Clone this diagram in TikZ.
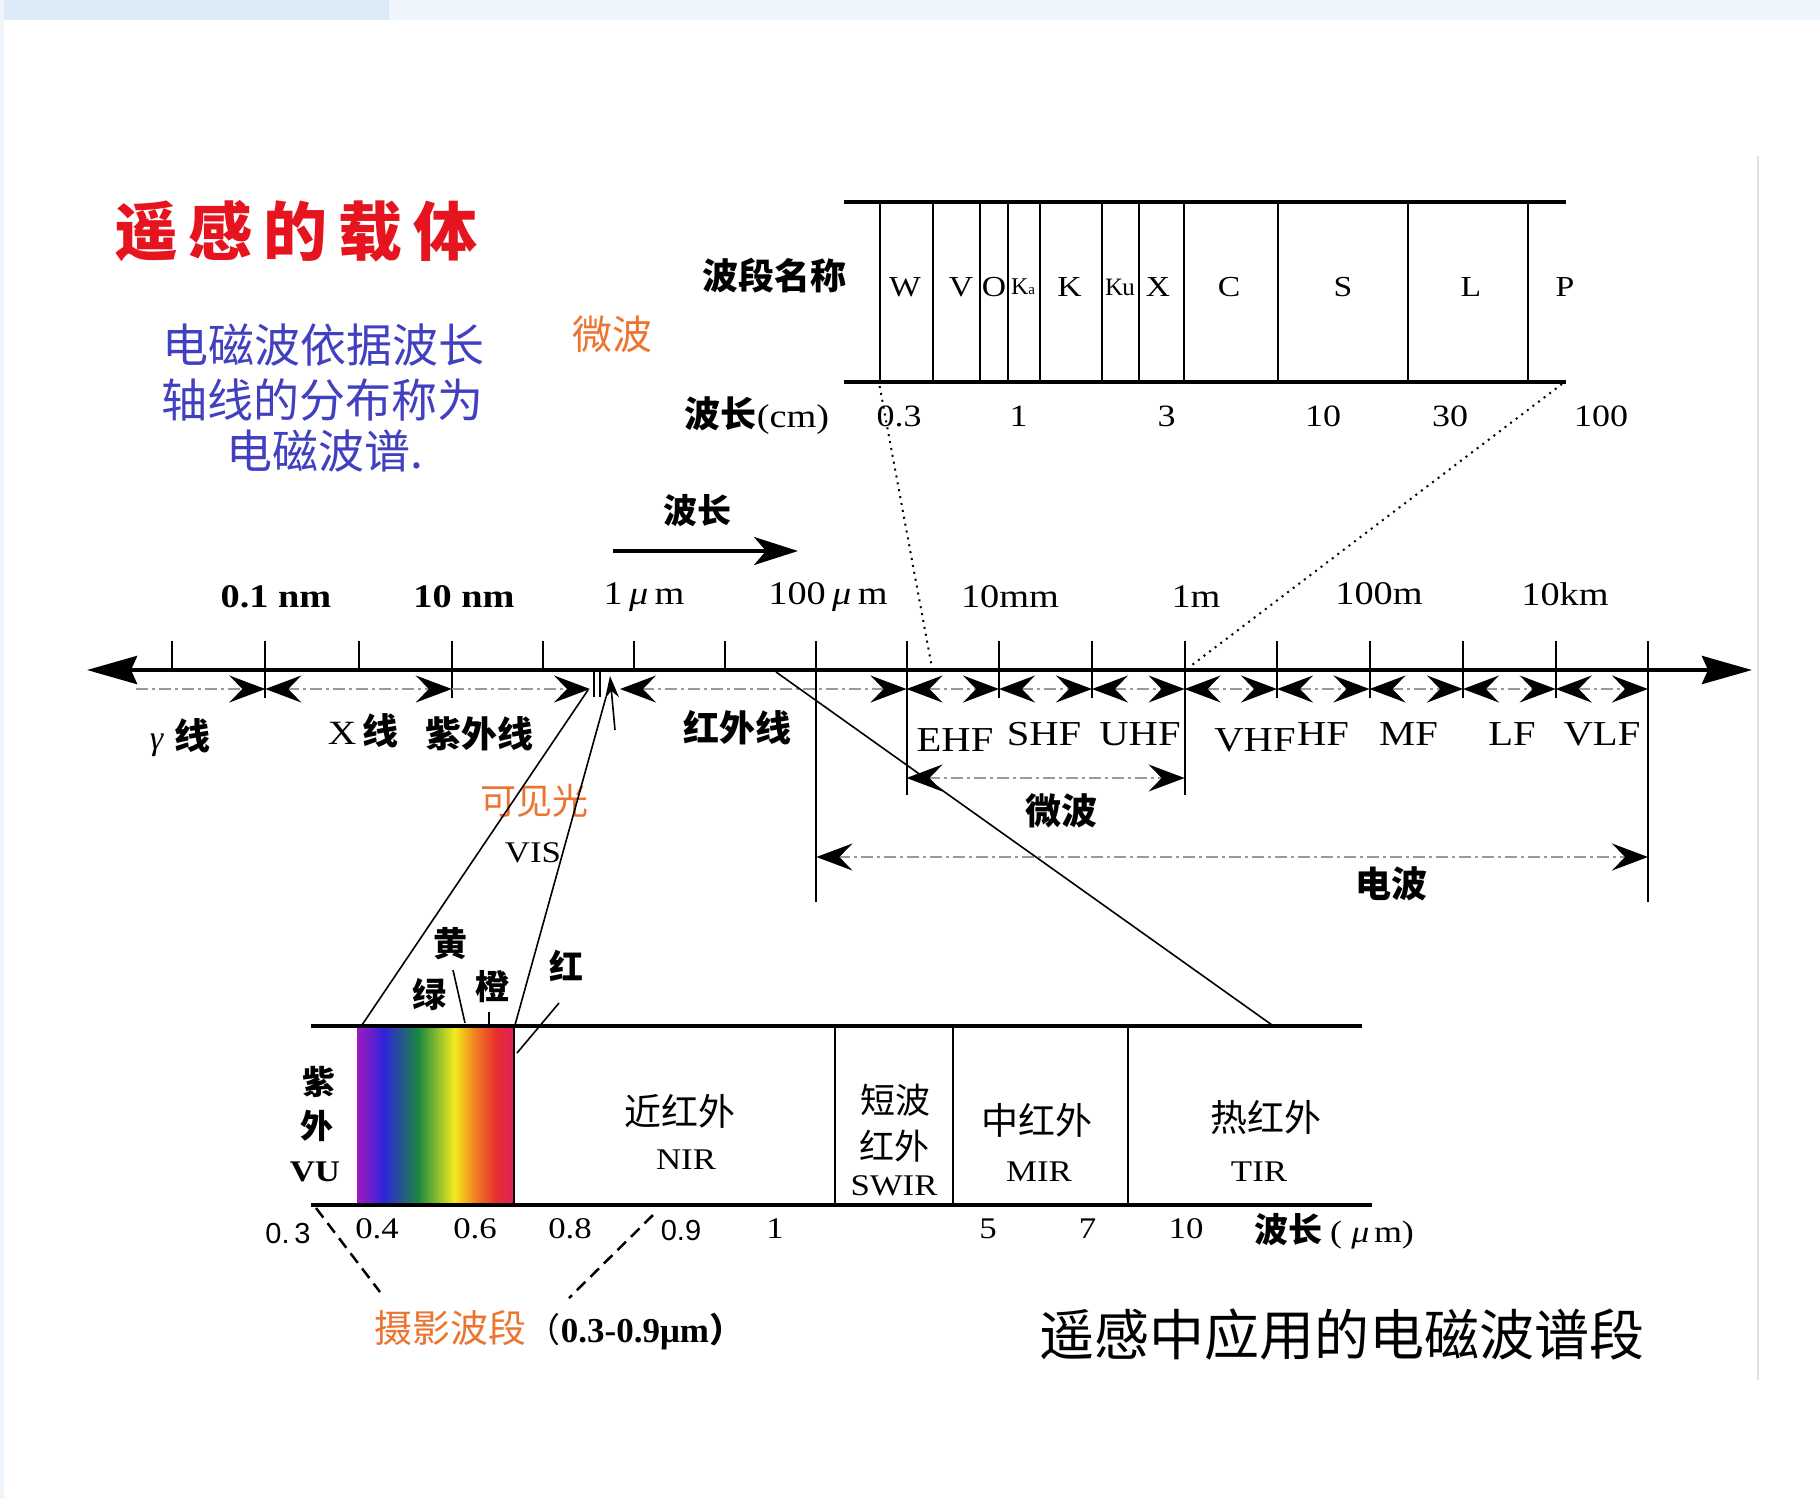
\documentclass[tikz,border=0pt]{standalone}
\usepackage{fontspec}
\setmainfont{Liberation Serif}
\newfontfamily\cjk{Noto Sans CJK SC}
\newfontfamily\sansnum{Liberation Sans}
\usetikzlibrary{arrows.meta}
\definecolor{titlered}{HTML}{E5141E}
\definecolor{bluetxt}{HTML}{4040C0}
\definecolor{orangetxt}{HTML}{EC7430}
\definecolor{bandblue}{HTML}{DCEAF8}
\definecolor{bandblue2}{HTML}{EEF5FC}
\definecolor{dimgray}{HTML}{9A9A9A}
\definecolor{framegray}{HTML}{E6DEDE}
\newcommand\fsz[1]{\fontsize{#1}{#1}\selectfont}
\newcommand\wide[1]{\scalebox{1.16}[1]{#1}}
\begin{document}
\begin{tikzpicture}[x=1pt,y=-1pt,
  txt/.style={inner sep=0pt, anchor=center},
  cb/.style={txt, font=\cjk\bfseries\fsz{#1}},
  cr/.style={txt, font=\cjk\fsz{#1}},
  tm/.style={txt, font=\fsz{#1}},
  axisline/.style={line width=4.5pt, {Stealth[length=50pt,width=28pt,inset=6pt]}-{Stealth[length=50pt,width=28pt,inset=6pt]}},
  tick/.style={line width=2pt},
  thin/.style={line width=1.6pt},
  hline/.style={line width=4pt},
  vline/.style={line width=2pt},
  dimline/.style={draw=dimgray, line width=2.4pt, dash pattern=on 12pt off 4pt on 3pt off 4pt},
  dimboth/.style={dimline, arrows={Stealth[length=36pt,width=27pt,inset=13pt,color=black]-Stealth[length=36pt,width=27pt,inset=13pt,color=black]}},
  dimright/.style={dimline, arrows={-Stealth[length=36pt,width=27pt,inset=13pt,color=black]}},
  dotline/.style={line width=2pt, dash pattern=on 2pt off 5pt},
  dashline/.style={line width=2.5pt, dash pattern=on 12pt off 7pt}
]
\useasboundingbox (0,0) rectangle (1820,1499);
\fill[white] (0,0) rectangle (1820,1499);
% background decoration
\fill[bandblue2] (0,0) rectangle (1820,20);
\fill[bandblue] (0,0) rectangle (389,20);
\fill[bandblue2] (0,0) rectangle (4,1499);
\draw[framegray, line width=2pt] (1758,156) -- (1758,1380);

% ---------- title & texts ----------
\node[txt, font=\cjk\bfseries\fsz{64}, text=titlered] (title) at (296,231) {遥\hspace{11pt}感\hspace{11pt}的\hspace{11pt}载\hspace{11pt}体};
\node[cr=46, text=bluetxt] (desc1) at (323,345) {电磁波依据波长};
\node[cr=46, text=bluetxt] (desc2) at (322,400) {轴线的分布称为};
\node[cr=46, text=bluetxt] (desc3) at (325,451) {电磁波谱.};
\node[cr=40, text=orangetxt] (mw) at (612,334) {微波};

% ---------- top table ----------
\coordinate (tl) at (844,202);
\coordinate (tr) at (1566,202);
\coordinate (bl) at (844,382);
\coordinate (br) at (1566,382);
\draw[hline] (tl) -- (tr);
\draw[hline] (bl) -- (br);
\foreach \x [count=\i] in {879.6,932.5,980.4,1008.4,1039.7,1102.2,1138.5,1184.4,1278.2,1407.7,1527.6}
  \draw[vline] (\x,202) coordinate (vt\i) -- (\x,382) coordinate (vb\i);
\node[cb=36] (bdmc) at (774,276) {波段名称};
\foreach \x/\t/\n in {905/W/W,961/V/V,994/O/O,1069.6/K/K,1158/X/X,1229/C/C,1343/S/S,1471/L/L,1565/P/P}
  \node[tm=29] (band\n) at (\x,287) {\wide{\t}};
\node[tm=24] (bandKa) at (1023,287) {K\fsz{15}a};
\node[tm=25] (bandKu) at (1120,287) {K\hspace{-1pt}u};
\node[txt] (bcm) at (757,416) {{\cjk\bfseries\fsz{36}波长}\wide{\fsz{33}(cm)}};
\foreach \x/\t/\n in {899/0.3/a,1018.6/1/b,1166.6/3/c,1323/10/d,1450/30/e,1601/100/f}
  \node[tm=31] (cm\n) at (\x,416) {\wide{\t}};

% ---------- wavelength arrow ----------
\node[cb=34] (bc) at (697,511) {波长};
\coordinate (wa1) at (613,551);
\coordinate (wa2) at (798,551);
\draw[line width=3.5pt, -{Stealth[length=44pt,width=28pt,inset=12pt]}] (wa1) -- (wa2);

% ---------- main axis ----------
\coordinate (axL) at (87,670);
\coordinate (axR) at (1752,670);
\draw[axisline] (axL) -- (axR);
\foreach \x [count=\i from 0] in {171.7,265.3,358.7,451.8,542.5,634.4,725,816.4,906.5,999,1092,1184.6,1277,1369.5,1463,1555.7,1648}
  \coordinate (t\i) at (\x,670);
% short ticks above
\foreach \i in {0,...,16} \draw[tick] (t\i) -- ++(0,-29);
% ticks continuing below
\foreach \i in {1,3,9,10,12,13,14,15} \draw[tick] (t\i) -- ++(0,28);
% long boundaries
\draw[tick] (t7) -- ++(0,232);
\draw[tick] (t16) -- ++(0,232);
\draw[tick] (t8) -- ++(0,125);
\draw[tick] (t11) -- ++(0,125);
% visible light boundaries
\coordinate (vis1) at (594,670);
\coordinate (vis2) at (600,670);
\draw[thin] (vis1) -- ++(0,27);
\draw[thin] (vis2) -- ++(0,27);

% dimension arrows
\coordinate (g0) at (136,689);
\coordinate (uvR) at (590,689);
\coordinate (irL) at (620,689);
\draw[dimright] (g0) -- (t1|-g0);
\draw[dimboth] (t1|-g0) -- (t3|-g0);
\draw[dimright] (t3|-g0) -- (uvR);
\draw[dimboth] (irL) -- (t8|-g0);
\foreach \a/\b in {8/9,9/10,10/11,11/12,12/13,13/14,14/15,15/16}
  \draw[dimboth] (t\a|-g0) -- (t\b|-g0);
% up arrow at visible band
\coordinate (ua1) at (615,730);
\coordinate (ua2) at (610,676);
\draw[thin, -{Stealth[length=22pt,width=14pt]}] (ua1) -- (ua2);

% microwave and radio brackets
\coordinate (m0) at (906.5,778);
\coordinate (r0) at (816.4,857);
\draw[dimboth] (t8|-m0) -- (t11|-m0);
\draw[dimboth] (t7|-r0) -- (t16|-r0);
\node[cb=36] (lmw) at (1061,811) {微波};
\node[cb=36] (ldb) at (1391,884) {电波};

% axis labels above
\node[tm=33] (l01) at (276,597) {\wide{\bfseries 0.1 nm}};
\node[tm=33] (l10) at (464,597) {\wide{\bfseries 10 nm}};
\node[tm=33] (l1u) at (644,597) {\wide{1\,\textit{μ}\,m}};
\node[tm=33] (l100u) at (828,597) {\wide{100\,\textit{μ}\,m}};
\node[tm=33] (l10mm) at (1010,597) {\wide{10mm}};
\node[tm=33] (l1m) at (1196,597) {\wide{1m}};
\node[tm=33] (l100m) at (1379,594) {\wide{100m}};
\node[tm=33] (l10km) at (1565,594) {\wide{10km}};

% band labels below
\node[txt] (lg) at (180,738) {\fsz{34}\textit{γ}\hspace{10pt}{\cjk\bfseries\fsz{36}线}};
\node[txt] (lx) at (363,731) {\wide{\fsz{34}X}\hspace{6pt}{\cjk\bfseries\fsz{36}线}};
\node[cb=36] (luv) at (479.5,734) {紫外线};
\node[cb=36] (lir) at (737,728) {红外线};
\foreach \x/\y/\t in {955/740/EHF,1044/734/SHF,1140/734/UHF,1255/740/VHF,1323/734/HF,1408.5/734/MF,1512/734/LF,1602/734/VLF}
  \node[tm=35] (f\t) at (\x,\y) {\wide{\t}};

% microwave zoom dotted lines
\coordinate (dz1) at (932,668);
\coordinate (dz2) at (1192,665);
\draw[dotline] (vb1) ++(0,4) -- (dz1);
\draw[dotline] (1562,384) coordinate (dz3) -- (dz2);

% ---------- visible light labels ----------
\node[cr=36, text=orangetxt] (lvis) at (534,801) {可见光};
\node[tm=30] (lvisen) at (533,853) {\wide{VIS}};

% ---------- lower panel ----------
\coordinate (ptl) at (311,1026);
\coordinate (ptr) at (1362,1026);
\coordinate (pbl) at (311,1205);
\coordinate (pbr) at (1372,1205);
% spectrum gradient
\shade[left color={rgb,255:red,160;green,26;blue,190}, right color={rgb,255:red,48;green,36;blue,220}] (357,1027) rectangle (384.2,1204);
\shade[left color={rgb,255:red,48;green,36;blue,220}, right color={rgb,255:red,24;green,136;blue,64}] (383.7,1027) rectangle (418.5,1204);
\shade[left color={rgb,255:red,24;green,136;blue,64}, right color={rgb,255:red,244;green,236;blue,30}] (418,1027) rectangle (454.5,1204);
\shade[left color={rgb,255:red,244;green,236;blue,30}, right color={rgb,255:red,242;green,130;blue,34}] (454,1027) rectangle (474.5,1204);
\shade[left color={rgb,255:red,242;green,130;blue,34}, right color={rgb,255:red,232;green,48;blue,44}] (474,1027) rectangle (495.5,1204);
\shade[left color={rgb,255:red,232;green,48;blue,44}, right color={rgb,255:red,224;green,30;blue,90}] (495,1027) rectangle (514,1204);
\draw[hline] (ptl) -- (ptr);
\draw[hline] (pbl) -- (pbr);
\foreach \x [count=\i] in {514,835,953,1128}
  \draw[vline] (\x,1026) coordinate (pv\i) -- (\x,1205);

% funnel lines
\coordinate (fl1) at (362,1025);
\coordinate (fl2) at (588,690);
\coordinate (fr1) at (515,1025);
\coordinate (fr2) at (606,697);
\coordinate (fd1) at (776,672);
\coordinate (fd2) at (1272,1025);
\draw[thin] (fl1) -- (fl2);
\draw[thin] (fr1) -- (fr2);
\draw[thin] (fd1) -- (fd2);

% colour labels
\node[cb=34] (cy) at (450,944) {黄};
\node[cb=34] (cg) at (429.5,995) {绿};
\node[cb=34] (co) at (492,987) {橙};
\node[cb=34] (cr) at (566,966) {红};
\draw[thin] (453,970) -- (465,1023);
\draw[thin] (489,1012) -- (489,1025);
\draw[thin] (559,1003) -- (517,1053);

% panel labels
\node[cb=33] (p1a) at (319,1082) {紫};
\node[cb=33] (p1b) at (317,1126) {外};
\node[tm=30] (p1c) at (315,1172) {\wide{\bfseries VU}};
\node[cr=37] (p2a) at (680,1111) {近红外};
\node[tm=30] (p2b) at (686,1160) {\wide{NIR}};
\node[cr=35] (p3a) at (895,1100) {短波};
\node[cr=35] (p3b) at (894,1146) {红外};
\node[tm=30] (p3c) at (894,1186) {\wide{SWIR}};
\node[cr=37] (p4a) at (1036.5,1120) {中红外};
\node[tm=30] (p4b) at (1039,1172) {\wide{MIR}};
\node[cr=37] (p5a) at (1266,1117) {热红外};
\node[tm=30] (p5b) at (1259,1172) {\wide{TIR}};

% bottom numbers
\node[txt, font=\sansnum\fsz{29}] (n03) at (288,1234) {0.\,3};
\foreach \x/\t/\n in {377/0.4/a,475/0.6/b,570/0.8/c,775/1/d,988/5/e,1087.6/7/f,1186/10/g}
  \node[tm=30] (n\n) at (\x,1229) {\wide{\t}};
\node[txt, font=\sansnum\fsz{29}] (n09) at (681,1231) {0.9};
\node[txt] (nunit) at (1334,1231) {{\cjk\bfseries\fsz{34}波长}\hspace{8pt}\wide{\fsz{31}(\hspace{8pt}\textit{μ}\hspace{4pt}m)}};

% photographic band dashed lines
\coordinate (pd1) at (316,1208);
\coordinate (pd2) at (380,1292);
\coordinate (pd3) at (653,1215);
\coordinate (pd4) at (569,1298);
\draw[dashline] (pd1) -- (pd2);
\draw[dashline] (pd3) -- (pd4);

\node[txt] (photo) at (559,1330) {{\cjk\fsz{38}\color{orangetxt}摄影波段}{\cjk\fsz{34}（}\bfseries\fsz{35}0.3-0.9μm{\cjk\fsz{34}）}};
\node[cr=55] (caption) at (1342,1335) {遥感中应用的电磁波谱段};
\end{tikzpicture}
\end{document}
